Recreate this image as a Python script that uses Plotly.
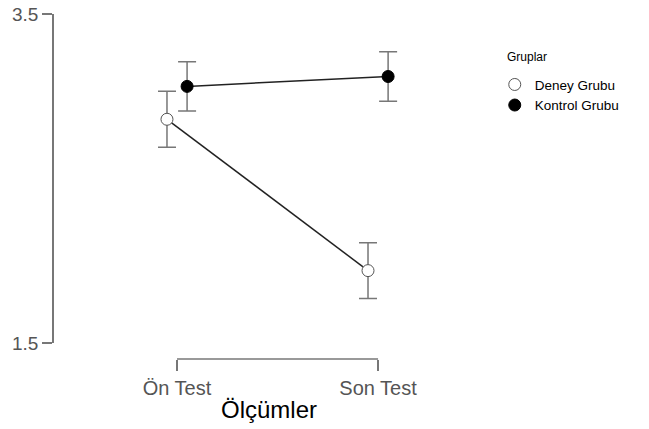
import plotly.graph_objects as go

categories = ["Ön Test", "Son Test"]
groups = ["Deney Grubu", "Kontrol Grubu"]
deney_mean = [2.86, 1.94]
deney_err = [0.17, 0.17]
kontrol_mean = [3.06, 3.12]
kontrol_err = [0.15, 0.15]
dodge = [-0.05, 0.05]

fig = go.Figure()
xpos = [0, 1]
specs = [
    (groups[0], deney_mean, deney_err, "white", "#555555", dodge[0]),
    (groups[1], kontrol_mean, kontrol_err, "black", "black", dodge[1]),
]
for name, means, errs, fill, edge, off in specs:
    fig.add_trace(go.Scatter(
        x=[p + off for p in xpos], y=means, name=name, mode="lines+markers",
        line=dict(color="#222222", width=1.5),
        marker=dict(size=12, color=fill, line=dict(color=edge, width=1)),
        error_y=dict(type="data", array=errs, visible=True, color="#777777", thickness=1.5, width=9),
        cliponaxis=False, showlegend=False,
    ))
for name, means, errs, fill, edge, off in specs:
    fig.add_trace(go.Scatter(
        x=[None], y=[None], name=name, mode="markers",
        marker=dict(size=12, color=fill, line=dict(color=edge, width=1)),
    ))

fig.add_shape(type="line", xref="x", yref="paper", x0=0, x1=1, y0=0, y1=0,
              line=dict(color="#777777", width=1.5))

fig.add_annotation(text="Gruplar", xref="paper", yref="paper", x=1.049, y=0.875,
                   xanchor="left", yanchor="middle", showarrow=False,
                   font=dict(size=12, color="black"))

fig.update_layout(
    width=649, height=429,
    margin=dict(l=54, r=165, t=14, b=70),
    plot_bgcolor="white", paper_bgcolor="white",
    font=dict(family="Liberation Sans, Arial", color="#555555"),
    xaxis=dict(range=[-0.612, 1.527], tickvals=xpos, ticktext=categories,
               anchor="free", position=0, showline=False, showgrid=False, zeroline=False,
               ticks="outside", ticklen=11, tickwidth=1.5, tickcolor="#777777",
               tickfont=dict(size=20, color="#555555"), automargin=False,
               title=dict(text="Ölçümler", font=dict(size=24, color="black"), standoff=3)),
    yaxis=dict(range=[1.5, 3.5], domain=[0.0464, 1], tickvals=[1.5, 3.5], ticktext=["1.5", "3.5"],
               showline=True, linecolor="#777777", linewidth=1.5, showgrid=False, zeroline=False,
               ticks="outside", ticklen=10, tickwidth=1.5, tickcolor="#777777",
               tickfont=dict(size=19, color="#555555"), automargin=False),
    legend=dict(x=1.025, y=0.84, xanchor="left", yanchor="top",
                font=dict(size=13.5, color="black"), itemwidth=30, tracegroupgap=0),
    showlegend=True,
)

fig.write_html("out.html")
